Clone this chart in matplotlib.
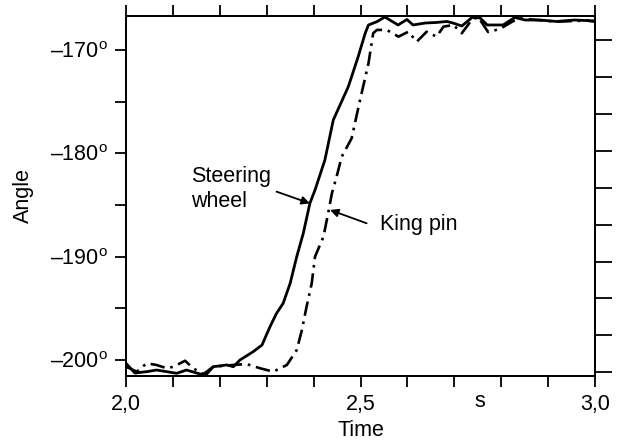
import matplotlib
matplotlib.use("Agg")
import matplotlib.pyplot as plt
from matplotlib.ticker import FixedLocator, FuncFormatter

plt.rcParams['font.family'] = 'Liberation Sans'
plt.rcParams['mathtext.fontset'] = 'custom'
plt.rcParams['mathtext.rm'] = 'Liberation Sans'

# Steering wheel (solid line), time in s, angle in degrees
t_wheel = [2.000, 2.019, 2.044, 2.065, 2.087, 2.108, 2.129, 2.158, 2.172, 2.186,
           2.215, 2.229, 2.243, 2.271, 2.290, 2.307, 2.321, 2.335, 2.350, 2.364,
           2.378, 2.392, 2.403, 2.424, 2.442, 2.474, 2.495, 2.510, 2.517, 2.535,
           2.552, 2.580, 2.599, 2.612, 2.638, 2.661, 2.684, 2.697, 2.716, 2.738,
           2.755, 2.770, 2.804, 2.829, 2.851, 2.883, 2.917, 2.957, 3.000]
a_wheel = [-200.32, -201.26, -201.13, -200.97, -201.13, -201.29, -200.97, -201.36, -201.36, -200.65,
           -200.48, -200.65, -200.00, -199.20, -198.55, -196.78, -195.48, -194.52, -192.58, -190.00,
           -187.74, -184.84, -183.55, -180.65, -176.77, -173.55, -170.65, -168.38, -167.58, -167.26,
           -166.81, -167.58, -167.05, -167.58, -167.39, -167.34, -167.24, -167.39, -167.68, -166.85,
           -166.90, -167.58, -167.58, -166.85, -167.10, -167.10, -167.24, -167.10, -167.19]

# King pin (dash-dot line)
t_pin = [2.000, 2.023, 2.044, 2.065, 2.087, 2.101, 2.126, 2.143, 2.165, 2.186,
         2.229, 2.257, 2.286, 2.314, 2.343, 2.364, 2.375, 2.385, 2.396, 2.403,
         2.421, 2.431, 2.439, 2.449, 2.460, 2.481, 2.499, 2.517, 2.527, 2.535,
         2.556, 2.581, 2.602, 2.620, 2.641, 2.662, 2.677, 2.698, 2.716, 2.737,
         2.751, 2.772, 2.797, 2.826, 2.840, 2.876, 2.918, 2.982, 3.000]
a_pin = [-200.65, -201.13, -200.32, -200.48, -200.80, -200.65, -200.07, -200.80, -201.36, -200.65,
         -200.48, -200.39, -200.80, -201.13, -200.48, -199.03, -197.10, -194.84, -192.58, -190.00,
         -188.07, -185.80, -183.87, -182.26, -180.33, -178.55, -174.84, -171.29, -168.38, -168.06,
         -168.06, -168.71, -168.23, -169.20, -168.23, -168.71, -167.74, -167.58, -168.38, -167.10,
         -166.81, -168.26, -167.97, -167.19, -166.93, -167.10, -167.26, -167.15, -167.26]

x_ticks = [2.0, 2.1, 2.2, 2.3, 2.4, 2.5, 2.6, 2.7, 2.8, 2.9, 3.0]
x_labels = {2.0: '2,0', 2.5: '2,5', 3.0: '3,0'}
y_ticks = [-200, -195, -190, -185, -180, -175, -170]
y_labels = {-200: '–200', -190: '–190', -180: '–180', -170: '–170'}
right_ticks = list(range(10))

fig = plt.figure(figsize=(6.18, 4.44), dpi=100)
ax = fig.add_axes([0.2039, 0.1538, 0.7589, 0.8102])

ax.plot(t_wheel, a_wheel, color='black', lw=2.0, solid_joinstyle='round')
ax.plot(t_pin, a_pin, color='black', lw=1.9, linestyle=(0, (5.5, 2.2, 1.0, 2.2)))

ax.set_xlim(2.0, 3.0)
ax.set_ylim(-201.52, -166.71)

ax.xaxis.set_major_locator(FixedLocator(x_ticks))
ax.xaxis.set_major_formatter(FuncFormatter(lambda v, p: x_labels.get(round(v, 1), '')))
ax.yaxis.set_major_locator(FixedLocator(y_ticks))
ax.yaxis.set_major_formatter(FuncFormatter(
    lambda v, p: y_labels[round(v)] + r'$^\mathregular{o}$' if round(v) in y_labels else ''))

ax.tick_params(axis='both', direction='out', length=8, width=1.3, labelsize=15.5, pad=5,
               top=True, labeltop=False)
for sp in ax.spines.values():
    sp.set_linewidth(1.3)

ax.set_xlabel('Time', fontsize=15.5, labelpad=4)
ax.set_ylabel('Angle', fontsize=15.5, labelpad=12)

# unlabelled scale on the right
tw = ax.twinx()
tw.set_ylim(-0.092, 9.65)
tw.set_yticks(right_ticks)
tw.tick_params(axis='y', direction='out', length=12, width=1.3, labelright=False)
for sp in tw.spines.values():
    sp.set_linewidth(1.3)

fig.text(480 / 618, 1 - 401 / 444, 's', ha='center', va='center', fontsize=15.5)

ax.text(2.138, -182.75, 'Steering', fontsize=15.5, va='baseline')
ax.text(2.138, -185.17, 'wheel', fontsize=15.5, va='baseline')
ax.annotate('', xy=(2.392, -184.84), xytext=(2.321, -183.71),
            arrowprops=dict(arrowstyle='-|>', color='black', lw=1.3,
                            mutation_scale=12, shrinkA=0, shrinkB=0))

ax.text(2.5416, -187.42, 'King pin', fontsize=15.5, va='baseline')
ax.annotate('', xy=(2.435, -185.48), xytext=(2.513, -186.77),
            arrowprops=dict(arrowstyle='-|>', color='black', lw=1.3,
                            mutation_scale=12, shrinkA=0, shrinkB=0))

fig.savefig('out.png', dpi=100)
